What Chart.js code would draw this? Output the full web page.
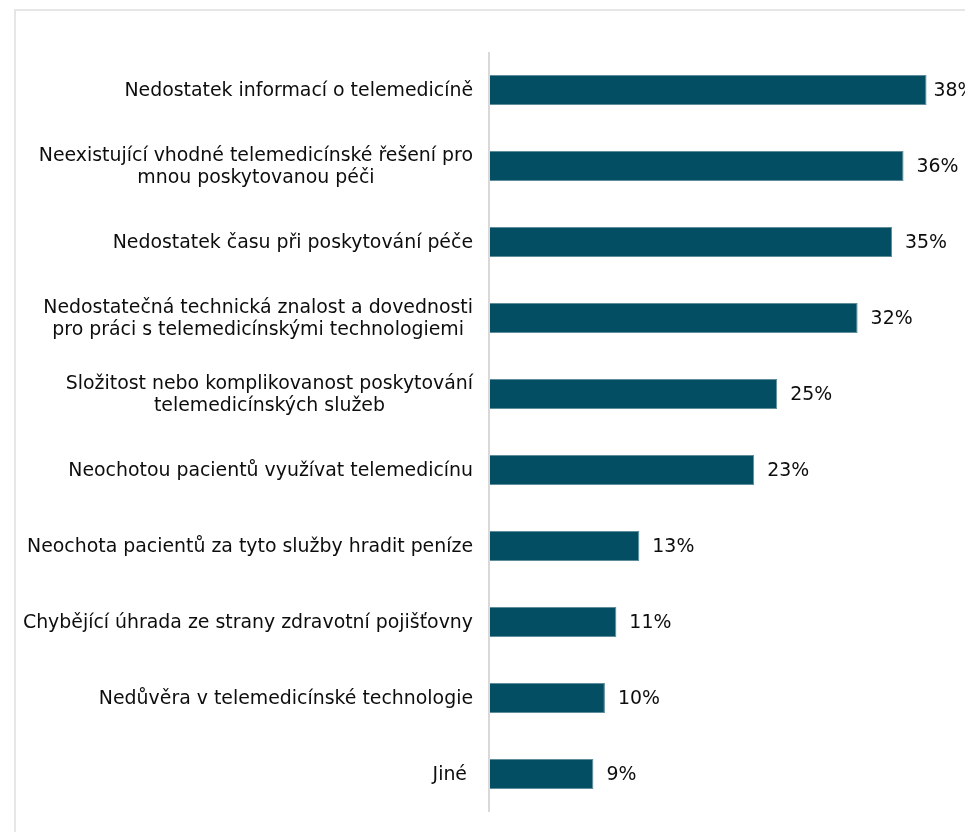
<!DOCTYPE html>
<html>
<head>
<meta charset="utf-8">
<script src="https://cdn.jsdelivr.net/npm/chart.js@4.4.0/dist/chart.umd.min.js"></script>
<style>
  html, body { margin: 0; padding: 0; background: #fff; overflow: hidden; }
  #frame {
    position: absolute; left: 14px; top: 9px; width: 1000px; height: 900px;
    border-left: 2px solid #e6e6e6; border-top: 2px solid #e6e6e6;
  }
  #chart { position: absolute; left: 0; top: 0; }
</style>
</head>
<body>
<div id="frame"></div>
<canvas id="chart" width="965" height="832"></canvas>
<script>
// reasons for not using telemedicine, share of respondents (%)
const categories = [
  ['Nedostatek informací o telemedicíně'],
  ['Neexistující vhodné telemedicínské řešení pro', 'mnou poskytovanou péči'],
  ['Nedostatek času při poskytování péče'],
  ['Nedostatečná technická znalost a dovednosti', 'pro práci s telemedicínskými technologiemi'],
  ['Složitost nebo komplikovanost poskytování', 'telemedicínských služeb'],
  ['Neochotou pacientů využívat telemedicínu'],
  ['Neochota pacientů za tyto služby hradit peníze'],
  ['Chybějící úhrada ze strany zdravotní pojišťovny'],
  ['Nedůvěra v telemedicínské technologie'],
  ['Jiné ']
];
const values = [38, 36, 35, 32, 25, 23, 13, 11, 10, 9];

const FONT = '18.9px "DejaVu Sans", Verdana, sans-serif';

// category labels, value labels and the vertical axis line
const labelsPlugin = {
  id: 'labels',
  afterDraw(chart) {
    const ctx = chart.ctx;
    const area = chart.chartArea;
    const y = chart.scales.y;
    ctx.save();

    ctx.strokeStyle = '#d9d9d9';
    ctx.lineWidth = 2;
    ctx.beginPath();
    ctx.moveTo(area.left - 1, area.top);
    ctx.lineTo(area.left - 1, area.bottom);
    ctx.stroke();

    ctx.font = FONT;
    ctx.fillStyle = '#0d0d0d';
    ctx.textBaseline = 'middle';
    const lineH = 21.5;
    categories.forEach((lines, i) => {
      const cy = y.getPixelForValue(i);
      const w = Math.max(...lines.map(l => ctx.measureText(l).width));
      const cx = area.left - 17 - w / 2;
      ctx.textAlign = 'center';
      lines.forEach((l, k) => {
        ctx.fillText(l, cx, cy + 1 + (k - (lines.length - 1) / 2) * lineH);
      });
    });

    const meta = chart.getDatasetMeta(0);
    ctx.textAlign = 'left';
    meta.data.forEach((bar, i) => {
      // keep the label of the longest bar a bit closer so it fits
      const gap = bar.x + 13 + 30 > chart.width ? 7 : 13;
      ctx.fillText(values[i] + '%', bar.x + gap, bar.y + 1);
    });
    ctx.restore();
  }
};

new Chart(document.getElementById('chart'), {
  type: 'bar',
  data: {
    labels: categories,
    datasets: [{
      data: values,
      backgroundColor: '#034e63',
      borderColor: '#5f8d9c',
      borderWidth: 1,
      borderSkipped: 'start',
      barPercentage: 0.395,
      categoryPercentage: 1
    }]
  },
  options: {
    indexAxis: 'y',
    responsive: false,
    animation: false,
    layout: { padding: { left: 490, top: 52, bottom: 20, right: 4 } },
    plugins: { legend: { display: false }, tooltip: { enabled: false } },
    scales: {
      x: { display: false, min: 0, max: 41 },
      y: { display: false }
    }
  },
  plugins: [labelsPlugin]
});
</script>
</body>
</html>
